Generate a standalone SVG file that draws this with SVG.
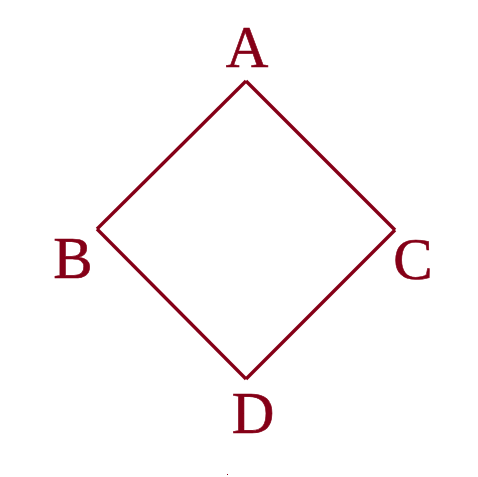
<svg xmlns="http://www.w3.org/2000/svg" width="478" height="477" viewBox="0 0 478 477">
<style>
.lbl{font-family:"Liberation Serif","Times New Roman",serif;font-size:59px;fill:#850017;stroke:#850017;stroke-width:0.6;text-anchor:middle}
.edge{stroke:#850017;stroke-width:3.3;fill:none}
</style>
<rect width="478" height="477" fill="#fff"/>
<g id="connectors">
<path class="edge" d="M246,81 L395,230"/>
<path class="edge" d="M395,230 L246,379"/>
<path class="edge" d="M246,379 L97,229"/>
<path class="edge" d="M97,229 L246,81"/>
</g>
<g id="node-A"><text class="lbl" x="247" y="67">A</text></g>
<g id="node-B"><text class="lbl" x="73" y="278">B</text></g>
<g id="node-C"><text class="lbl" x="413" y="279">C</text></g>
<g id="node-D"><text class="lbl" x="253" y="433">D</text></g>
<rect x="227" y="474" width="1" height="1" fill="#850017"/>
</svg>
